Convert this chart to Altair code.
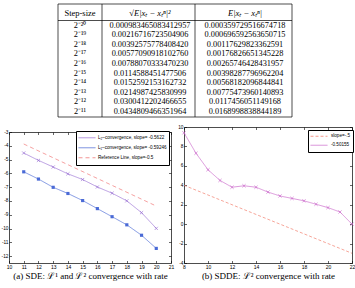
import altair as alt
import pandas as pd

# ---------------- data ----------------
step_labels = ["2⁻²⁰", "2⁻¹⁹", "2⁻¹⁸", "2⁻¹⁷", "2⁻¹⁶", "2⁻¹⁵", "2⁻¹⁴", "2⁻¹³", "2⁻¹²", "2⁻¹¹"]
l2_error_text = ["0.000983465083412957", "0.00216716723504906", "0.00392575778408420",
                 "0.00577090918102760", "0.00788070333470230", "0.0114588451477506",
                 "0.0152592153162732", "0.0214987425830999", "0.0300412202466655",
                 "0.0434809466351964"]
l1_error_text = ["0.000359729516674718", "0.000696592563650715", "0.00117629823362591",
                 "0.00176826651345228", "0.00265746428431957", "0.00398287796962204",
                 "0.00568182096844841", "0.00775473960140893", "0.0117456051149168",
                 "0.0168998838844189"]
table_headers = ["Step-size", "√E|xₜ − xₜⁿ|²", "E|xₜ − xₜⁿ|"]

sde_x = [20, 19, 18, 17, 16, 15, 14, 13, 12, 11]
sde_log_l2 = [-9.990, -8.850, -7.993, -7.437, -6.988, -6.447, -6.034, -5.540, -5.057, -4.524]
sde_log_l1 = [-11.441, -10.487, -9.732, -9.143, -8.556, -7.972, -7.459, -7.011, -6.412, -5.887]
sde_ref_x = [11, 20]
sde_ref_y = [-3.87, -8.37]
sde_series = ["L₂–convergence, slope= -0.5622",
              "L₁–convergence, slope= -0.59246",
              "Reference Line, slope=-0.5"]
sde_xticks = [10, 11, 12, 13, 14, 15, 16, 17, 18, 19, 20, 21]
sde_yticks = [-12, -11, -10, -9, -8, -7, -6, -5, -4, -3]

sdde_x = [8, 9, 10, 11, 12, 13, 14, 15, 16, 17, 18, 19, 20, 21, 22]
sdde_y = [9.4, 7.3, 5.6, 4.5, 3.8, 3.95, 3.8, 3.3, 2.9, 2.65, 2.4, 2.05, 1.7, 1.25, 0.0]
sdde_ref_x = [8, 22]
sdde_ref_y = [4.0, -3.0]
sdde_series = ["slope=-.5", "-0.50155"]
sdde_xticks = [8, 10, 12, 14, 16, 18, 20, 22]
sdde_yticks = [-4, -2, 0, 2, 4, 6, 8, 10]

caption_a = "(a) SDE: ℒ¹ and ℒ² convergence with rate"
caption_b = "(b) SDDE: ℒ² convergence with rate"

# ---------------- layout / style ----------------
W, H = 355, 288
SANS = "Liberation Sans"
SERIF = "Liberation Serif"
PURPLE, BLUE, RED = "#9b72d4", "#4a6ad6", "#f07878"
MAGENTA, RED_B = "#cc6ccc", "#f2806e"
XMARK = "M-1,-1L1,1M-1,1L1,-1"

A_XR, A_YR, A_XD, A_YD = [9, 171], [263, 132], [10, 21], [-12.5, -3]
B_XR, B_YR, B_XD, B_YD = [184, 352], [263, 127], [8, 22], [-4, 10]

TABLE_EDGES_X = [58, 102, 195, 292]
TABLE_COL_CENTERS = [80, 150, 245]
TABLE_TOP, TABLE_HEAD_LINE, TABLE_BOTTOM = 4, 20.5, 117
TABLE_ROWS_RANGE = [21, 116.5]


def axes(kind, xr, yr, xticks, yticks, caption=None):
    common = dict(grid=False, domainColor="black", domainWidth=0.7,
                  tickColor="black", tickWidth=0.6)
    if kind == "labels":
        ax = alt.Axis(orient="bottom", offset=-(H - yr[0]), values=xticks, ticks=False,
                      domain=True, labelFont=SANS, labelFontSize=5, labelColor="black",
                      labelPadding=1.5, labelFlush=False, labelOverlap=False,
                      title=caption, titleFont=SERIF, titleFontSize=9,
                      titleFontWeight="normal", titleColor="black", titlePadding=2,
                      labelExpr="'' + datum.value", **common)
        ay = alt.Axis(orient="left", offset=-xr[0], values=yticks, ticks=False,
                      domain=True, labelFont=SANS, labelFontSize=4.8, labelColor="black",
                      labelPadding=1, labelFlush=False, labelOverlap=False, title=None,
                      labelExpr="'' + datum.value", **common)
    elif kind == "ticks_lb":
        ax = alt.Axis(orient="top", offset=-yr[0], values=xticks, labels=False,
                      ticks=True, tickSize=2.5, domain=False, title=None, **common)
        ay = alt.Axis(orient="right", offset=-(W - xr[0]), values=yticks, labels=False,
                      ticks=True, tickSize=2.5, domain=False, title=None, **common)
    else:
        ax = alt.Axis(orient="bottom", offset=-(H - yr[1]), values=xticks, labels=False,
                      ticks=True, tickSize=2.5, domain=True, title=None, **common)
        ay = alt.Axis(orient="left", offset=-xr[1], values=yticks, labels=False,
                      ticks=True, tickSize=2.5, domain=True, title=None, **common)
    return ax, ay


def xy(xd, xr, yd, yr, ax, ay):
    return dict(
        x=alt.X("x:Q", scale=alt.Scale(domain=xd, range=xr, nice=False, zero=False), axis=ax),
        y=alt.Y("y:Q", scale=alt.Scale(domain=yd, range=yr, nice=False, zero=False), axis=ay),
    )


layers = []

# ---------------- table ----------------
vrules = pd.DataFrame({"x": TABLE_EDGES_X})
layers.append(alt.Chart(vrules).mark_rule(color="black", strokeWidth=0.7).encode(
    x=alt.X("x:Q", scale=None, axis=None),
    y=alt.value(TABLE_TOP), y2=alt.value(TABLE_BOTTOM)))
hrules = pd.DataFrame({"y": [TABLE_TOP, TABLE_HEAD_LINE, TABLE_BOTTOM]})
layers.append(alt.Chart(hrules).mark_rule(color="black", strokeWidth=0.7).encode(
    y=alt.Y("y:Q", scale=None, axis=None),
    x=alt.value(TABLE_EDGES_X[0]), x2=alt.value(TABLE_EDGES_X[-1])))

for i, head in enumerate(table_headers):
    hdf = pd.DataFrame({"t": [head]})
    layers.append(alt.Chart(hdf).mark_text(
        font=SERIF, fontSize=8.5, align="center", baseline="middle", color="black",
        fontStyle="normal" if i == 0 else "italic").encode(
        x=alt.value(TABLE_COL_CENTERS[i]),
        y=alt.value((TABLE_TOP + TABLE_HEAD_LINE) / 2 + 0.5),
        text="t:N"))

tbl = pd.DataFrame({"step": step_labels, "c0": step_labels,
                    "c1": l2_error_text, "c2": l1_error_text})
for i, col in enumerate(["c0", "c1", "c2"]):
    layers.append(alt.Chart(tbl).mark_text(
        font=SERIF, fontSize=8.3, align="center", baseline="middle", color="black").encode(
        x=alt.value(TABLE_COL_CENTERS[i]),
        y=alt.Y("step:N", scale=alt.Scale(type="point", domain=step_labels,
                                          range=TABLE_ROWS_RANGE, padding=0.5), axis=None),
        text=f"{col}:N"))

# ---------------- chart (a) ----------------
a_lines = pd.concat([
    pd.DataFrame({"x": sde_x, "y": sde_log_l2, "series": sde_series[0]}),
    pd.DataFrame({"x": sde_x, "y": sde_log_l1, "series": sde_series[1]}),
    pd.DataFrame({"x": sde_ref_x, "y": sde_ref_y, "series": sde_series[2]}),
], ignore_index=True)

legend_a = alt.Legend(orient="none", legendX=76, legendY=131, title=None,
                      symbolType="stroke", symbolSize=289, symbolStrokeWidth=0.8,
                      clipHeight=9.5, rowPadding=0, padding=2, symbolOffset=0,
                      labelFont=SANS, labelFontSize=4.6, labelColor="black",
                      labelOffset=2, labelLimit=300,
                      strokeColor="black", fillColor="white")

ax, ay = axes("labels", A_XR, A_YR, sde_xticks, sde_yticks, caption_a)
layers.append(alt.Chart(a_lines).mark_line(strokeWidth=0.7).encode(
    **xy(A_XD, A_XR, A_YD, A_YR, ax, ay),
    color=alt.Color("series:N", scale=alt.Scale(domain=sde_series, range=[PURPLE, BLUE, RED]),
                    legend=legend_a),
    strokeDash=alt.StrokeDash("series:N", scale=alt.Scale(domain=sde_series,
                                                          range=[[1, 0], [1, 0], [4, 3]]),
                              legend=legend_a),
    order=alt.Order("x:Q")))

ax, ay = axes("ticks_lb", A_XR, A_YR, sde_xticks, sde_yticks)
a_l1 = pd.DataFrame({"x": sde_x, "y": sde_log_l1})
layers.append(alt.Chart(a_l1).mark_point(shape="square", filled=True, size=10,
                                         color=BLUE, opacity=1).encode(
    **xy(A_XD, A_XR, A_YD, A_YR, ax, ay)))

ax, ay = axes("ticks_tr", A_XR, A_YR, sde_xticks, sde_yticks)
a_l2 = pd.DataFrame({"x": sde_x, "y": sde_log_l2})
layers.append(alt.Chart(a_l2).mark_point(shape=XMARK, filled=False, size=10, strokeWidth=0.7,
                                         color=PURPLE, opacity=1).encode(
    **xy(A_XD, A_XR, A_YD, A_YR, ax, ay)))

# ---------------- chart (b) ----------------
b_lines = pd.concat([
    pd.DataFrame({"x": sdde_ref_x, "y": sdde_ref_y, "series": sdde_series[0]}),
    pd.DataFrame({"x": sdde_x, "y": sdde_y, "series": sdde_series[1]}),
], ignore_index=True)

legend_b = alt.Legend(orient="none", legendX=308, legendY=130, title=None,
                      symbolType="stroke", symbolSize=289, symbolStrokeWidth=0.8,
                      clipHeight=8.5, rowPadding=0, padding=2, symbolOffset=0,
                      labelFont=SANS, labelFontSize=4.6, labelColor="black",
                      labelOffset=3, labelLimit=300,
                      strokeColor="black", fillColor="white")

ax, ay = axes("labels", B_XR, B_YR, sdde_xticks, sdde_yticks, caption_b)
layers.append(alt.Chart(b_lines).mark_line(strokeWidth=0.7).encode(
    **xy(B_XD, B_XR, B_YD, B_YR, ax, ay),
    color=alt.Color("series:N", scale=alt.Scale(domain=sdde_series, range=[RED_B, MAGENTA]),
                    legend=legend_b),
    strokeDash=alt.StrokeDash("series:N", scale=alt.Scale(domain=sdde_series,
                                                          range=[[3, 2], [1, 0]]),
                              legend=legend_b),
    order=alt.Order("x:Q")))

ax, ay = axes("ticks_lb", B_XR, B_YR, sdde_xticks, sdde_yticks)
b_pts = pd.DataFrame({"x": sdde_x, "y": sdde_y})
layers.append(alt.Chart(b_pts).mark_point(shape=XMARK, filled=False, size=10, strokeWidth=0.7,
                                          color=MAGENTA, opacity=1).encode(
    **xy(B_XD, B_XR, B_YD, B_YR, ax, ay)))

ax, ay = axes("ticks_tr", B_XR, B_YR, sdde_xticks, sdde_yticks)
layers.append(alt.Chart(b_pts).mark_point(opacity=0, size=1).encode(
    **xy(B_XD, B_XR, B_YD, B_YR, ax, ay)))

chart = alt.layer(*layers).properties(
    width=W, height=H, padding=0,
    autosize=alt.AutoSizeParams(type="none"),
).resolve_scale(
    x="independent", y="independent", color="independent", strokeDash="independent"
).resolve_axis(
    x="independent", y="independent"
).resolve_legend(
    color="independent", strokeDash="independent"
).configure_view(stroke=None).configure_axis(grid=False)

chart.save("out.html", embed_options={"renderer": "svg", "actions": False})
